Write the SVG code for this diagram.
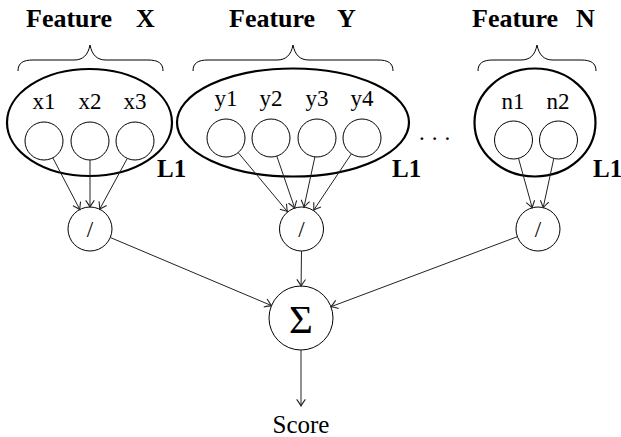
<svg xmlns="http://www.w3.org/2000/svg" width="621" height="437" viewBox="0 0 621 437">
<defs>
<style>
text{font-family:'Liberation Serif','Tinos','DejaVu Serif','Noto Serif',serif;fill:#000}
.title{font-weight:bold;font-size:26px}
.lbl{font-size:23px;text-anchor:middle}
.l1{font-weight:bold;font-size:25px}
.grp{fill:none;stroke:#000;stroke-width:2.2}
.in{fill:#fff;stroke:#000;stroke-width:1}
.brace{fill:none;stroke:#000;stroke-width:1}
.op{font-size:23px;text-anchor:middle}
.edge{fill:none;stroke:#222;stroke-width:1;marker-end:url(#arr)}
</style>
<marker id="arr" markerUnits="userSpaceOnUse" markerWidth="12" markerHeight="12" viewBox="-7 -5 8 10" refX="0" refY="0" orient="auto" overflow="visible">
<path d="M-5.5,-3.6 Q-1.5,-0.8 0,0 Q-1.5,0.8 -5.5,3.6" fill="none" stroke="#222" stroke-width="0.9"/>
</marker>
</defs>

<g id="featureX">
<text class="title" y="27"><tspan x="26">Feature</tspan><tspan x="136">X</tspan></text>
<path class="brace" d="M18,71 C18,63 23,60 33,60 L74,60 C83,60 88,55 90,45 C92,55 97,60 106,60 L148,60 C158,60 163,63 163,71"/>
<ellipse class="grp" cx="89.5" cy="122.5" rx="82.5" ry="53.5"/>
<text class="lbl" x="44" y="109">x1</text>
<text class="lbl" x="90" y="109">x2</text>
<text class="lbl" x="135" y="109">x3</text>
<circle id="x1" class="in" cx="44" cy="141" r="19"/>
<circle id="x2" class="in" cx="90" cy="141" r="19"/>
<circle id="x3" class="in" cx="135" cy="141" r="19"/>
<text class="l1" x="157" y="177">L1</text>
</g>

<g id="featureY">
<text class="title" y="27"><tspan x="229">Feature</tspan><tspan x="337">Y</tspan></text>
<path class="brace" d="M193,71 C193,63 198,60 208,60 L277,60 C286,60 291,55 293,45 C295,55 300,60 309,60 L378,60 C388,60 393,63 393,71"/>
<ellipse class="grp" cx="293" cy="122.5" rx="116" ry="54"/>
<text class="lbl" x="226" y="106">y1</text>
<text class="lbl" x="271" y="106">y2</text>
<text class="lbl" x="317" y="106">y3</text>
<text class="lbl" x="362" y="106">y4</text>
<circle id="y1" class="in" cx="226" cy="138" r="19"/>
<circle id="y2" class="in" cx="271" cy="138" r="19"/>
<circle id="y3" class="in" cx="317" cy="138" r="19"/>
<circle id="y4" class="in" cx="362" cy="138" r="19"/>
<text class="l1" x="392" y="177">L1</text>
</g>

<g id="dots">
<text class="lbl" x="438" y="140" style="letter-spacing:7px">...</text>
</g>

<g id="featureN">
<text class="title" y="27"><tspan x="472">Feature</tspan><tspan x="576">N</tspan></text>
<path class="brace" d="M478,71 C478,63 483,60 493,60 L521,60 C530,60 535,55 537,45 C539,55 544,60 553,60 L581,60 C591,60 596,63 596,71"/>
<ellipse class="grp" cx="535" cy="122.5" rx="60.5" ry="54"/>
<text class="lbl" x="513" y="109">n1</text>
<text class="lbl" x="558" y="109">n2</text>
<circle id="n1" class="in" cx="513.5" cy="140" r="19"/>
<circle id="n2" class="in" cx="558.5" cy="140" r="19"/>
<text class="l1" x="593" y="177">L1</text>
</g>

<g id="normX">
<circle class="in" cx="90" cy="229" r="22"/>
<text class="op" x="90" y="237">/</text>
</g>
<g id="normY">
<circle class="in" cx="301.5" cy="229" r="22"/>
<text class="op" x="301.5" y="237">/</text>
</g>
<g id="normN">
<circle class="in" cx="538" cy="229" r="22"/>
<text class="op" x="538" y="237">/</text>
</g>

<g id="sum">
<circle class="in" cx="301" cy="318" r="32"/>
<text x="301" y="333" style="font-size:41px;text-anchor:middle">Σ</text>
</g>

<g id="score">
<text x="301" y="433" style="font-size:25px;text-anchor:middle">Score</text>
</g>

<g id="connectors">
<line class="edge" x1="52.8" y1="157.8" x2="79.8" y2="209.5"/>
<line class="edge" x1="90" y1="160" x2="90" y2="207"/>
<line class="edge" x1="127.3" y1="158.4" x2="99.7" y2="209.2"/>

<line class="edge" x1="238.2" y1="152.6" x2="287.4" y2="211.6"/>
<line class="edge" x1="276.8" y1="156.1" x2="294.7" y2="208.1"/>
<line class="edge" x1="314.9" y1="156.9" x2="304.0" y2="207.1"/>
<line class="edge" x1="351.4" y1="153.8" x2="313.7" y2="210.2"/>

<line class="edge" x1="518.5" y1="158.3" x2="532.2" y2="207.8"/>
<line class="edge" x1="553.8" y1="158.4" x2="543.2" y2="207.6"/>

<line class="edge" x1="110.3" y1="237.5" x2="271.5" y2="305.6"/>
<line class="edge" x1="301.5" y1="251" x2="301.1" y2="286"/>
<line class="edge" x1="517.4" y1="236.7" x2="331" y2="306.7"/>

<line class="edge" x1="301" y1="350" x2="301" y2="406"/>
</g>
</svg>
